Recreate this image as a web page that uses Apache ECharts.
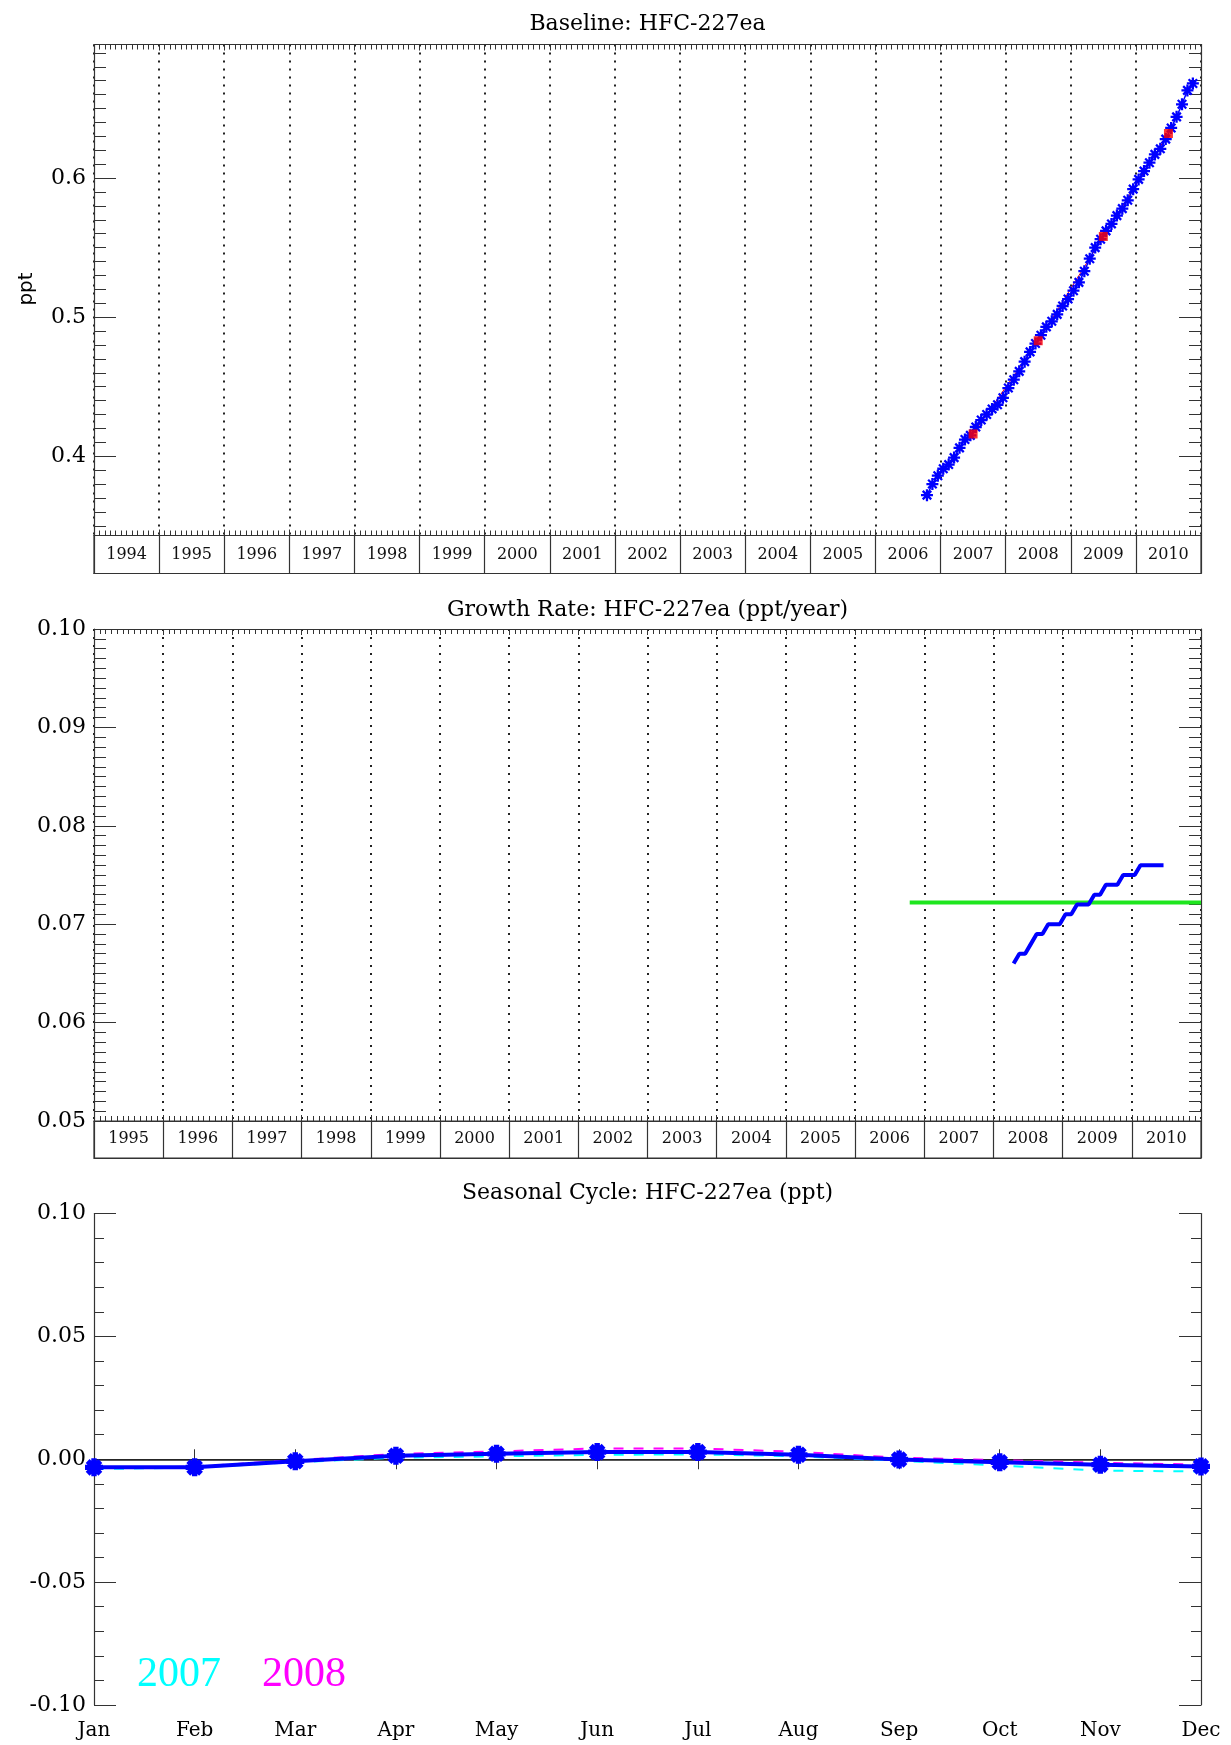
<!DOCTYPE html>
<html>
<head>
<meta charset="utf-8">
<title>HFC-227ea</title>
<script src="https://cdn.jsdelivr.net/npm/echarts@6.0.0/dist/echarts.min.js"></script>
<style>
  html, body { margin: 0; padding: 0; background: #fff; }
  #chart { width: 1231px; height: 1745px; }
</style>
</head>
<body>
<div id="chart"></div>
<script>
// ---- Baseline: monthly mixing ratios (ppt), first month Oct 2006 ----
const baselineStart = [2006, 10];
const baselineValues = [
  0.372, 0.380, 0.386, 0.391, 0.394, 0.399, 0.406, 0.412, 0.415, 0.421,
  0.426, 0.430, 0.434, 0.437, 0.442, 0.449, 0.455, 0.461, 0.468, 0.475,
  0.481, 0.487, 0.493, 0.497, 0.502, 0.508, 0.513, 0.519, 0.525, 0.533,
  0.542, 0.550, 0.556, 0.562, 0.567, 0.573, 0.578, 0.584, 0.592, 0.599,
  0.605, 0.611, 0.617, 0.621, 0.628, 0.636, 0.644, 0.653, 0.663, 0.668
];
// annual means, plotted at mid-year
const annualYears = [2007, 2008, 2009, 2010];
const annualValues = [0.416, 0.483, 0.558, 0.632];

// ---- Growth rate (ppt/year), first month Apr 2008 ----
const growthStart = [2008, 4];
const growthValues = [
  0.066, 0.067, 0.067, 0.068, 0.069, 0.069, 0.070, 0.070, 0.070, 0.071,
  0.071, 0.072, 0.072, 0.072, 0.073, 0.073, 0.074, 0.074, 0.074, 0.075,
  0.075, 0.075, 0.076, 0.076, 0.076, 0.076, 0.076
];
const meanGrowth = 0.0722;
const meanGrowthSpan = [2006.79, 2011.0];

// ---- Seasonal cycle (ppt) ----
const months = ['Jan', 'Feb', 'Mar', 'Apr', 'May', 'Jun', 'Jul', 'Aug', 'Sep', 'Oct', 'Nov', 'Dec'];
const seasonalMean = [-0.0033, -0.0033, -0.0008, 0.0014, 0.0022, 0.0029, 0.0029, 0.0018, -0.0001, -0.0012, -0.0022, -0.0029];
const seasonal2007 = [-0.0040, -0.0034, -0.0012, 0.0006, 0.0012, 0.0018, 0.0020, 0.0012, -0.0006, -0.0026, -0.0046, -0.0050];
const seasonal2008 = [-0.0036, -0.0030, -0.0004, 0.0022, 0.0032, 0.0044, 0.0044, 0.0030, 0.0006, -0.0004, -0.0014, -0.0022];

// ---- Axis labels ----
const yearsTop = ['1994','1995','1996','1997','1998','1999','2000','2001','2002','2003','2004','2005','2006','2007','2008','2009','2010'];
const yearsMid = ['1995','1996','1997','1998','1999','2000','2001','2002','2003','2004','2005','2006','2007','2008','2009','2010'];
const baselineLabelTicks = [0.4, 0.5, 0.6];
const baselineRange = [0.343, 0.696];

// decimal year of the middle of a month
function midMonth(year, month) { return year + (month - 0.5) / 12; }
function monthlySeries(start, values) {
  return values.map((v, i) => {
    const m = start[1] - 1 + i;
    return [midMonth(start[0] + Math.floor(m / 12), (m % 12) + 1), v];
  });
}
// minor tick positions every 0.01 inside the baseline range
const baselineMinorTicks = [];
for (let k = Math.ceil(baselineRange[0] * 100); k <= Math.floor(baselineRange[1] * 100); k++) {
  baselineMinorTicks.push(k / 100);
}

// eight-armed asterisk marker
function starPath(a) {
  const L = 10, D = 7.071, d = a * 0.7071;
  return 'path://' +
    `M${-a},${-L}L${a},${-L}L${a},${L}L${-a},${L}Z` +
    `M${-L},${-a}L${L},${-a}L${L},${a}L${-L},${a}Z` +
    `M${-D + d},${-D - d}L${D + d},${D - d}L${D - d},${D + d}L${-D - d},${-D + d}Z` +
    `M${-D - d},${D - d}L${D - d},${-D - d}L${D + d},${-D + d}L${-D + d},${D + d}Z`;
}

const AX = '#333';
const LABEL_FONT = 'DejaVu Serif';
const PLOT_LEFT = 94, PLOT_W = 1107;

function yearAxis(gridIndex, min, max, position, dotted) {
  return {
    type: 'value', gridIndex, position, min, max, interval: 1,
    axisLine: { show: true, lineStyle: { color: AX, width: 1.2 } },
    axisTick: { show: true, inside: true, length: 6, lineStyle: { color: AX } },
    minorTick: { show: true, splitNumber: 12, length: 5, lineStyle: { color: AX } },
    axisLabel: { show: false },
    splitLine: { show: dotted, lineStyle: { color: '#222', width: 2, type: [2, 6] } }
  };
}
function stripAxis(gridIndex, years) {
  return {
    type: 'category', gridIndex, position: 'bottom', data: years, boundaryGap: true,
    axisLine: { show: true, lineStyle: { color: AX, width: 1.2 } },
    axisTick: { show: false },
    axisLabel: { inside: true, interval: 0, margin: 19, verticalAlign: 'middle',
      fontFamily: LABEL_FONT, fontSize: 16, color: '#111' },
    splitLine: { show: true, interval: 0, lineStyle: { color: AX, width: 1.2 } }
  };
}
function hiddenY(gridIndex) {
  return { type: 'value', gridIndex, show: false, min: 0, max: 1 };
}

const option = {
  animation: false,
  backgroundColor: '#fff',
  grid: [
    { left: PLOT_LEFT, top: 44.5, width: PLOT_W, height: 491 },
    { left: PLOT_LEFT, top: 535.5, width: PLOT_W, height: 38, show: true, borderColor: AX, borderWidth: 1.2 },
    { left: PLOT_LEFT, top: 629, width: PLOT_W, height: 492 },
    { left: PLOT_LEFT, top: 1121, width: PLOT_W, height: 37, show: true, borderColor: AX, borderWidth: 1.2 },
    { left: PLOT_LEFT, top: 1213.5, width: PLOT_W, height: 491.5 }
  ],
  xAxis: [
    yearAxis(0, 1994, 2011, 'bottom', true),
    yearAxis(0, 1994, 2011, 'top', false),
    stripAxis(1, yearsTop),
    yearAxis(2, 1995, 2011, 'bottom', true),
    yearAxis(2, 1995, 2011, 'top', false),
    stripAxis(3, yearsMid),
    {
      type: 'value', gridIndex: 4, position: 'bottom', min: 1, max: 12, interval: 1,
      axisLine: { show: true, lineStyle: { color: AX, width: 1.2 } },
      axisTick: { show: true, inside: true, length: 10, lineStyle: { color: AX } },
      axisLabel: { margin: 16, fontFamily: LABEL_FONT, fontSize: 20, color: '#000',
        formatter: v => months[Math.round(v) - 1] },
      splitLine: { show: false }
    },
    {
      type: 'value', gridIndex: 4, position: 'top', min: 1, max: 12, interval: 1,
      axisLine: { show: true, lineStyle: { color: AX, width: 1.2 } },
      axisTick: { show: true, inside: true, length: 10, lineStyle: { color: AX } },
      axisLabel: { show: false },
      splitLine: { show: false }
    }
  ],
  yAxis: [
    // baseline panel
    {
      type: 'value', gridIndex: 0, position: 'left', min: baselineRange[0], max: baselineRange[1],
      axisLine: { show: true, lineStyle: { color: AX, width: 1.2 } },
      axisTick: { show: true, inside: true, length: 22, customValues: baselineLabelTicks, lineStyle: { color: AX } },
      axisLabel: { customValues: baselineLabelTicks, margin: 8, fontFamily: LABEL_FONT, fontSize: 22, color: '#000',
        formatter: v => v.toFixed(1) },
      splitLine: { show: false }
    },
    {
      type: 'value', gridIndex: 0, position: 'left', min: baselineRange[0], max: baselineRange[1],
      axisLine: { show: false },
      axisTick: { show: true, inside: true, length: 12, customValues: baselineMinorTicks, lineStyle: { color: AX } },
      axisLabel: { show: false }, splitLine: { show: false }
    },
    {
      type: 'value', gridIndex: 0, position: 'right', min: baselineRange[0], max: baselineRange[1],
      axisLine: { show: true, lineStyle: { color: AX, width: 1.2 } },
      axisTick: { show: true, inside: true, length: 22, customValues: baselineLabelTicks, lineStyle: { color: AX } },
      axisLabel: { show: false }, splitLine: { show: false }
    },
    {
      type: 'value', gridIndex: 0, position: 'right', min: baselineRange[0], max: baselineRange[1],
      axisLine: { show: false },
      axisTick: { show: true, inside: true, length: 12, customValues: baselineMinorTicks, lineStyle: { color: AX } },
      axisLabel: { show: false }, splitLine: { show: false }
    },
    hiddenY(1),
    // growth-rate panel
    {
      type: 'value', gridIndex: 2, position: 'left', min: 0.05, max: 0.10, interval: 0.01,
      axisLine: { show: true, lineStyle: { color: AX, width: 1.2 } },
      axisTick: { show: true, inside: true, length: 22, lineStyle: { color: AX } },
      minorTick: { show: true, splitNumber: 10, length: 12, lineStyle: { color: AX } },
      axisLabel: { margin: 8, fontFamily: LABEL_FONT, fontSize: 22, color: '#000', formatter: v => v.toFixed(2) },
      splitLine: { show: false }
    },
    {
      type: 'value', gridIndex: 2, position: 'right', min: 0.05, max: 0.10, interval: 0.01,
      axisLine: { show: true, lineStyle: { color: AX, width: 1.2 } },
      axisTick: { show: true, inside: true, length: 22, lineStyle: { color: AX } },
      minorTick: { show: true, splitNumber: 10, length: 12, lineStyle: { color: AX } },
      axisLabel: { show: false }, splitLine: { show: false }
    },
    hiddenY(3),
    // seasonal-cycle panel
    {
      type: 'value', gridIndex: 4, position: 'left', min: -0.10, max: 0.10, interval: 0.05,
      axisLine: { show: true, lineStyle: { color: AX, width: 1.2 } },
      axisTick: { show: true, inside: true, length: 22, lineStyle: { color: AX } },
      minorTick: { show: true, splitNumber: 5, length: 10, lineStyle: { color: AX } },
      axisLabel: { margin: 8, fontFamily: LABEL_FONT, fontSize: 22, color: '#000', formatter: v => v.toFixed(2) },
      splitLine: { show: false }
    },
    {
      type: 'value', gridIndex: 4, position: 'right', min: -0.10, max: 0.10, interval: 0.05,
      axisLine: { show: true, lineStyle: { color: AX, width: 1.2 } },
      axisTick: { show: true, inside: true, length: 22, lineStyle: { color: AX } },
      minorTick: { show: true, splitNumber: 5, length: 10, lineStyle: { color: AX } },
      axisLabel: { show: false }, splitLine: { show: false }
    }
  ],
  series: [
    {
      name: 'annual trend', type: 'line', xAxisIndex: 0, yAxisIndex: 0,
      data: annualYears.map((y, i) => [y + 0.5, annualValues[i]]),
      symbol: 'none', lineStyle: { color: '#ff0000', width: 1 }, z: 2
    },
    {
      name: 'baseline', type: 'line', xAxisIndex: 0, yAxisIndex: 0,
      data: monthlySeries(baselineStart, baselineValues),
      symbol: starPath(1.9), symbolSize: 12,
      itemStyle: { color: '#0000ff' }, lineStyle: { color: '#0000ff', width: 1.5 }, z: 3
    },
    {
      name: 'annual mean', type: 'scatter', xAxisIndex: 0, yAxisIndex: 0,
      data: annualYears.map((y, i) => [y + 0.5, annualValues[i]]),
      symbol: 'rect', symbolSize: 9, itemStyle: { color: '#ff0000' }, z: 5
    },
    {
      name: 'mean growth', type: 'line', xAxisIndex: 3, yAxisIndex: 5,
      data: meanGrowthSpan.map(x => [x, meanGrowth]),
      symbol: 'none', lineStyle: { color: '#1ee61e', width: 4 }, z: 2
    },
    {
      name: 'growth rate', type: 'line', xAxisIndex: 3, yAxisIndex: 5,
      data: monthlySeries(growthStart, growthValues),
      symbol: 'none', lineStyle: { color: '#0000ff', width: 4 }, z: 3
    },
    {
      name: '2007', type: 'line', xAxisIndex: 6, yAxisIndex: 8,
      data: seasonal2007.map((v, i) => [i + 1, v]),
      symbol: 'none', lineStyle: { color: '#00ffff', width: 2, type: [10, 10] }, z: 2
    },
    {
      name: '2008', type: 'line', xAxisIndex: 6, yAxisIndex: 8,
      data: seasonal2008.map((v, i) => [i + 1, v]),
      symbol: 'none', lineStyle: { color: '#ff00ff', width: 2, type: [10, 10] }, z: 2
    },
    {
      name: 'mean cycle', type: 'line', xAxisIndex: 6, yAxisIndex: 8,
      data: seasonalMean.map((v, i) => [i + 1, v]),
      symbol: starPath(3.0), symbolSize: 18,
      itemStyle: { color: '#0000ff' }, lineStyle: { color: '#0000ff', width: 4 }, z: 4,
      markLine: {
        silent: true, symbol: 'none', label: { show: false },
        lineStyle: { color: '#222', width: 1.5, type: 'solid' },
        data: [{ yAxis: 0 }], z: 1
      }
    }
  ],
  graphic: [
    { type: 'text', x: PLOT_LEFT + PLOT_W / 2, y: 24.5, style: { text: 'Baseline: HFC-227ea',
      font: '22px "DejaVu Serif"', fill: '#000', align: 'center', verticalAlign: 'middle' } },
    { type: 'text', x: PLOT_LEFT + PLOT_W / 2, y: 610, style: { text: 'Growth Rate: HFC-227ea (ppt/year)',
      font: '22px "DejaVu Serif"', fill: '#000', align: 'center', verticalAlign: 'middle' } },
    { type: 'text', x: PLOT_LEFT + PLOT_W / 2, y: 1193, style: { text: 'Seasonal Cycle: HFC-227ea (ppt)',
      font: '22px "DejaVu Serif"', fill: '#000', align: 'center', verticalAlign: 'middle' } },
    { type: 'text', x: 27, y: 289, rotation: Math.PI / 2, style: { text: 'ppt',
      font: '20px "DejaVu Sans"', fill: '#000', align: 'center', verticalAlign: 'middle' } },
    { type: 'text', x: 137, y: 1675, style: { text: '2007',
      font: '42px "Liberation Serif"', fill: '#00ffff', align: 'left', verticalAlign: 'middle' } },
    { type: 'text', x: 262, y: 1675, style: { text: '2008',
      font: '42px "Liberation Serif"', fill: '#ff00ff', align: 'left', verticalAlign: 'middle' } }
  ]
};

const chart = echarts.init(document.getElementById('chart'), null, { renderer: 'canvas' });
chart.setOption(option);
</script>
</body>
</html>
